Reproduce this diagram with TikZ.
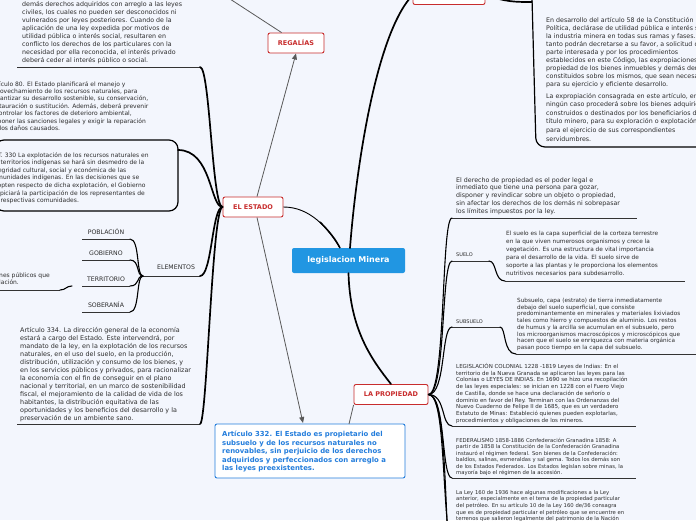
\documentclass[tikz,border=0pt]{standalone}
\usepackage{fontspec}
\setmainfont{DejaVu Sans}
\usetikzlibrary{arrows.meta,positioning}

\definecolor{bgcol}{RGB}{243,246,253}
\definecolor{mainblue}{RGB}{33,150,226}
\definecolor{boxblue}{RGB}{35,125,220}
\definecolor{topicred}{RGB}{200,45,45}
\definecolor{txt}{RGB}{45,45,45}

\tikzset{
  central/.style={fill=mainblue, rounded corners=2pt, text=white, font=\fontsize{8}{9}\selectfont\bfseries, minimum width=113pt, minimum height=25pt, inner sep=0pt},
  topic/.style={draw=topicred, line width=0.9pt, rounded corners=2pt, fill=white, text=topicred, font=\fontsize{6.5}{7}\selectfont\bfseries, inner sep=0pt, minimum height=20pt},
  note/.style={align=left, anchor=base west, text=txt, inner sep=0pt, font=\fontsize{6.3}{8}\selectfont},
  smallnote/.style={note, font=\fontsize{5.4}{6.7}\selectfont},
  label/.style={anchor=base west, text=txt, inner sep=0pt, font=\fontsize{6.2}{7}\selectfont},
  tiny/.style={label, font=\fontsize{5}{6}\selectfont},
  branch/.style={line width=1.7pt, black, line cap=round},
  twig/.style={line width=1.1pt, black, line cap=round},
  uline/.style={line width=0.8pt, black!80},
  link/.style={draw=black!65, line width=0.8pt},
}

\begin{document}
\begin{tikzpicture}[x=1pt,y=-1pt]
  \useasboundingbox (0,0) rectangle (696,520);
  \fill[bgcol] (0,0) rectangle (696,520);
  \clip (0,0) rectangle (696,520);

  % Main topics
  \node[central] (mineria) at (348.5,260.5) {legislacion Minera};
  \node[topic, minimum width=56pt] (regalias) at (296,43) {REGALÍAS};
  \node[topic, minimum width=60pt] (estado) at (253,207) {EL ESTADO};
  \node[topic, minimum width=74pt] (propiedad) at (391,394.5) {LA PROPIEDAD};
  \node[topic, minimum width=72pt] (arriba) at (449,-5.5) {};

  % Article 332 box (last baseline given)
  \node[draw=boxblue, line width=0.9pt, rounded corners=2pt, fill=white, minimum width=190pt, minimum height=54pt] (art332) at (310,451) {};
  \node[note, text=boxblue, font=\fontsize{6.9}{8.5}\selectfont\bfseries] (art332txt) at (222,470.5) {Artículo 332. El Estado es propietario del\\
subsuelo y de los recursos naturales no\\
renovables, sin perjuicio de los derechos\\
adquiridos y perfeccionados con arreglo a\\
las leyes preexistentes.};

  % Central branches
  \draw[branch] (350,248) .. controls (356,170) and (375,40) .. (410,-2);
  \draw[line width=0.9pt] (estado.east) .. controls (310,207) and (328,228) .. (340,248);
  \draw[line width=1.5pt] (320,222) .. controls (330,232) and (336,240) .. (340,248);
  \draw[branch] (mineria.south) .. controls (350,330) and (372,360) .. (propiedad.north);

  % Relations
  \draw[link, -{Triangle[length=6pt,width=5pt]}] (estado.north) ++(4,0) -- (regalias.south);
  \draw[link] (regalias.north west) ++(14,0) -- (230,-1);
  \draw[link, -{Triangle[length=6pt,width=5pt]}] (estado.south) ++(4,0) -- (303,423);
  \coordinate (a332) at (349,424);
  \draw[link] (a332) -- (propiedad.south west);

  % ---------- EL ESTADO (left side) ----------
  \node[note] (art58) at (22,62.5) {demás derechos adquiridos con arreglo a las leyes\\
civiles, los cuales no pueden ser desconocidos ni\\
vulnerados por leyes posteriores. Cuando de la\\
aplicación de una ley expedida por motivos de\\
utilidad pública o interés social, resultaren en\\
conflicto los derechos de los particulares con la\\
necesidad por ella reconocida, el interés privado\\
deberá ceder al interés público o social.};
  \coordinate (art58r) at (200,67);
  \draw[uline] (17,67) -- (art58r);
  \draw[branch] (estado.west) .. controls (212,207) and (210,67) .. (art58r);

  \node[note, font=\fontsize{6}{7.4}\selectfont] (art80) at (-10,130.4) {Artículo 80. El Estado planificará el manejo y\\
aprovechamiento de los recursos naturales, para\\
garantizar su desarrollo sostenible, su conservación,\\
restauración o sustitución. Además, deberá prevenir\\
y controlar los factores de deterioro ambiental,\\
imponer las sanciones legales y exigir la reparación\\
de los daños causados.};

  \draw[line width=1.2pt, rounded corners=9pt] (-5,140) rectangle (178,211);
  \node[note, font=\fontsize{6}{7.6}\selectfont] (art330) at (-10,202.6) {ART. 330 La explotación de los recursos naturales en\\
los territorios indígenas se hará sin desmedro de la\\
integridad cultural, social y económica de las\\
comunidades indígenas. En las decisiones que se\\
adopten respecto de dicha explotación, el Gobierno\\
propiciará la participación de los representantes de\\
las respectivas comunidades.};
  \coordinate (art330r) at (178,150);
  \draw[branch] (estado.west) .. controls (210,207) and (212,150) .. (art330r);

  % Elements of the state
  \node[label] (elementos) at (157,269.5) {ELEMENTOS};
  \coordinate (elemr) at (200,276);
  \coordinate (eleml) at (143,276);
  \draw[uline] (eleml) -- (elemr);
  \draw[branch] (estado.west) .. controls (212,207) and (212,276) .. (elemr);

  \foreach \nm/\tx/\yy in {poblacion/POBLACIÓN/239, gobierno/GOBIERNO/260, territorio/TERRITORIO/286, soberania/SOBERANÍA/312}{
    \node[label, anchor=base] (\nm) at (106,\yy-4.5) {\tx};
    \coordinate (\nm r) at (130,\yy);
    \draw[uline] (82,\yy) -- (\nm r);
    \draw[twig] (eleml) .. controls (136,276) and (140,\yy) .. (\nm r);
  }

  \node[note, font=\fontsize{6}{7.6}\selectfont] (terrnota) at (-1,284.6) {nes públicos que\\lación.};
  \coordinate (terrl) at (72,286);
  \draw[uline] (-2,290) -- (60,290);
  \draw[twig] (60,290) .. controls (66,290) and (66,286) .. (terrl);

  \node[note, font=\fontsize{6.4}{8}\selectfont] (art334) at (20,420.5) {Artículo 334. La dirección general de la economía\\
estará a cargo del Estado. Este intervendrá, por\\
mandato de la ley, en la explotación de los recursos\\
naturales, en el uso del suelo, en la producción,\\
distribución, utilización y consumo de los bienes, y\\
en los servicios públicos y privados, para racionalizar\\
la economía con el fin de conseguir en el plano\\
nacional y territorial, en un marco de sostenibilidad\\
fiscal, el mejoramiento de la calidad de vida de los\\
habitantes, la distribución equitativa de las\\
oportunidades y los beneficios del desarrollo y la\\
preservación de un ambiente sano.};
  \coordinate (art334r) at (200,424);
  \draw[uline] (17,424) -- (art334r);
  \draw[branch] (estado.west) .. controls (212,207) and (207,424) .. (art334r);

  % ---------- top right ----------
  \draw[line width=1.2pt, rounded corners=9pt] (532,-2) -- (536,147) -- (710,147);
  \draw[branch] (arriba.east) .. controls (505,2) and (515,2) .. (532,2);
  \node[note] (art13) at (546,86) {En desarrollo del artículo 58 de la Constitución\\
Política, declárase de utilidad pública e interés social\\
la industria minera en todas sus ramas y fases. Por\\
tanto podrán decretarse a su favor, a solicitud de\\
parte interesada y por los procedimientos\\
establecidos en este Código, las expropiaciones de la\\
propiedad de los bienes inmuebles y demás derechos\\
constituidos sobre los mismos, que sean necesarios\\
para su ejercicio y eficiente desarrollo.};
  \node[note, font=\fontsize{6.3}{8.6}\selectfont] (art13b) at (546,141) {La expropiación consagrada en este artículo, en\\
ningún caso procederá sobre los bienes adquiridos,\\
construidos o destinados por los beneficiarios de un\\
título minero, para su exploración o explotación o\\
para el ejercicio de sus correspondientes\\
servidumbres.};

  % ---------- LA PROPIEDAD (right side) ----------
  \node[note, font=\fontsize{6.3}{7.9}\selectfont] (derecho) at (456,213.6) {El derecho de propiedad es el poder legal e\\
inmediato que tiene una persona para gozar,\\
disponer y revindicar sobre un objeto o propiedad,\\
sin afectar los derechos de los demás ni sobrepasar\\
los límites impuestos por la ley.};
  \coordinate (derechol) at (452,218);
  \draw[uline] (derechol) -- (637,218);

  \node[tiny] (suelo) at (456,256) {SUELO};
  \coordinate (suelol) at (452,261);
  \draw[uline] (suelol) -- (489,261);
  \draw[twig] (489,261) .. controls (497,261) and (494,281) .. (505,281);
  \draw[uline] (505,281) -- (685,281);
  \node[note, font=\fontsize{5.8}{8.1}\selectfont] (suelotxt) at (506,275.5) {El suelo es la capa superficial de la corteza terrestre\\
en la que viven numerosos organismos y crece la\\
vegetación. Es una estructura de vital importancia\\
para el desarrollo de la vida. El suelo sirve de\\
soporte a las plantas y le proporciona los elementos\\
nutritivos necesarios para subdesarrollo.};

  \node[tiny] (subsuelo) at (456,323) {SUBSUELO};
  \coordinate (subsuelol) at (452,327);
  \draw[uline] (subsuelol) -- (500,327);
  \draw[twig] (500,327) .. controls (506,327) and (503,354) .. (516,354);
  \draw[uline] (516,354) -- (700,354);
  \node[smallnote, font=\fontsize{5.7}{6.7}\selectfont] (subsuelotxt) at (517,349.4) {Subsuelo, capa (estrato) de tierra inmediatamente\\
debajo del suelo superficial, que consiste\\
predominantemente en minerales y materiales lixiviados\\
tales como hierro y compuestos de aluminio. Los restos\\
de humus y la arcilla se acumulan en el subsuelo, pero\\
los microorganismos macroscópicos y microscópicos que\\
hacen que el suelo se enriquezca con materia orgánica\\
pasan poco tiempo en la capa del subsuelo.};

  \node[smallnote, font=\fontsize{5.5}{6.7}\selectfont] (colonial) at (456,422.1) {LEGISLACIÓN COLONIAL 1228 -1819 Leyes de Indias: En el\\
territorio de la Nueva Granada se aplicaron las leyes para las\\
Colonias o LEYES DE INDIAS. En 1690 se hizo una recopilación\\
de las leyes especiales: se inician en 1228 con el Fuero Viejo\\
de Castilla, donde se hace una declaración de señorío o\\
dominio en favor del Rey. Terminan con las Ordenanzas del\\
Nuevo Cuaderno de Felipe II de 1685, que es un verdadero\\
Estatuto de Minas: Estableció quienes pueden explotarlas,\\
procedimientos y obligaciones de los mineros.};
  \coordinate (coloniall) at (452,426);
  \draw[uline] (coloniall) -- (636,426);

  \node[smallnote, font=\fontsize{5.3}{6.5}\selectfont] (federal) at (456,474.5) {FEDERALISMO 1858-1886 Confederación Granadina 1858: A\\
partir de 1858 la Constitución de la Confederación Granadina\\
instauró el régimen federal. Son bienes de la Confederación:\\
baldíos, salinas, esmeraldas y sal gema. Todos los demás son\\
de los Estados Federados. Los Estados legislan sobre minas, la\\
mayoría bajo el régimen de la accesión.};
  \coordinate (federall) at (452,478);
  \draw[uline] (federall) -- (636,478);

  \node[smallnote, font=\fontsize{5.3}{6.7}\selectfont] (ley160) at (456,520.8) {La Ley 160 de 1936 hace algunas modificaciones a la Ley\\
anterior, especialmente en el tema de la propiedad particular\\
del petróleo. En su artículo 10 de la Ley 160 de/36 consagra\\
que es de propiedad particular el petróleo que se encuentre en\\
terrenos  que salieron legalmente del patrimonio  de la Nación};

  % trunk lines from LA PROPIEDAD
  \foreach \dst/\yy in {derechol/218, suelol/261, subsuelol/327, coloniall/426, federall/478}{
    \draw[twig] (propiedad.east) .. controls (446,394.5) and (441,\yy) .. (\dst);
  }
  \coordinate (masa) at (452,560);
  \coordinate (masb) at (452,610);
  \draw[twig] (propiedad.east) .. controls (446,394.5) and (441,500) .. (masa);
  \draw[twig] (propiedad.east) .. controls (448,394.5) and (444,520) .. (masb);
\end{tikzpicture}
\end{document}
